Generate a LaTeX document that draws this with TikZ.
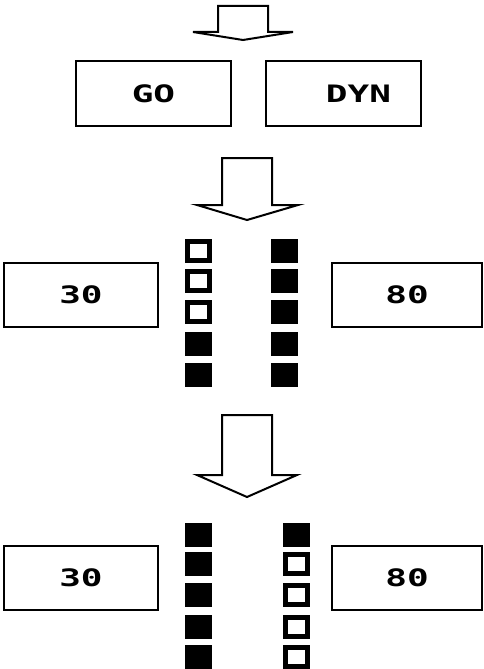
\documentclass[tikz,border=0pt]{standalone}
\usepackage{fontspec}
\newfontfamily\lcdfont{DejaVu Sans Mono}
\newcommand{\lcd}[1]{{\lcdfont\bfseries\fontsize{24}{24}\selectfont\scalebox{1.5}[1]{#1}}}

\begin{document}
\begin{tikzpicture}[x=1pt,y=-1pt,
  box/.style={draw,line width=2pt,minimum height=64pt,inner sep=0pt},
  on/.style={fill=black,minimum width=27pt,minimum height=24pt,inner sep=0pt},
  off/.style={draw=black,line width=5pt,fill=white,minimum width=22pt,minimum height=19pt,inner sep=0pt},
  blockarrow/.style={draw,line width=2pt,fill=white,line join=miter}]
  \useasboundingbox (0,0) rectangle (483,669);

  % mode select
  \draw[blockarrow] (218,6) -- (268,6) -- (268,32) -- (293,32) -- (243,40) -- (193,32) -- (218,32) -- cycle;
  \node[box,minimum width=155pt] (go) at (153.5,93.5) {\lcd{GO}};
  \node[box,minimum width=155pt] (dyn) at (343.5,93.5) {\hspace*{30pt}\lcd{DYN}};

  % first state
  \draw[blockarrow] (222,158) -- (272,158) -- (272,205) -- (298,205) -- (247,220) -- (197,205) -- (222,205) -- cycle;
  \node[box,minimum width=154pt] (lowA) at (81,294.5) {\lcd{30}};
  \node[box,minimum width=150pt] (highA) at (407,294.5) {\lcd{80}};
  \node[off] (la1) at (198,251) {};
  \node[off] (la2) at (198,281) {};
  \node[off] (la3) at (198,312) {};
  \node[on]  (la4) at (198,344) {};
  \node[on]  (la5) at (198,375) {};
  \node[on]  (ra1) at (284,251) {};
  \node[on]  (ra2) at (284,281) {};
  \node[on]  (ra3) at (284,312) {};
  \node[on]  (ra4) at (284,344) {};
  \node[on]  (ra5) at (284,375) {};

  % second state
  \draw[blockarrow] (222,415) -- (272,415) -- (272,475) -- (297,475) -- (247,497) -- (197,475) -- (222,475) -- cycle;
  \node[box,minimum width=154pt] (lowB) at (81,578) {\lcd{30}};
  \node[box,minimum width=150pt] (highB) at (407,578) {\lcd{80}};
  \node[on]  (lb1) at (198,535) {};
  \node[on]  (lb2) at (198,564) {};
  \node[on]  (lb3) at (198,595) {};
  \node[on]  (lb4) at (198,627) {};
  \node[on]  (lb5) at (198,657) {};
  \node[on]  (rb1) at (296,535) {};
  \node[off] (rb2) at (296,564) {};
  \node[off] (rb3) at (296,595) {};
  \node[off] (rb4) at (296,627) {};
  \node[off] (rb5) at (296,657) {};
\end{tikzpicture}
\end{document}
